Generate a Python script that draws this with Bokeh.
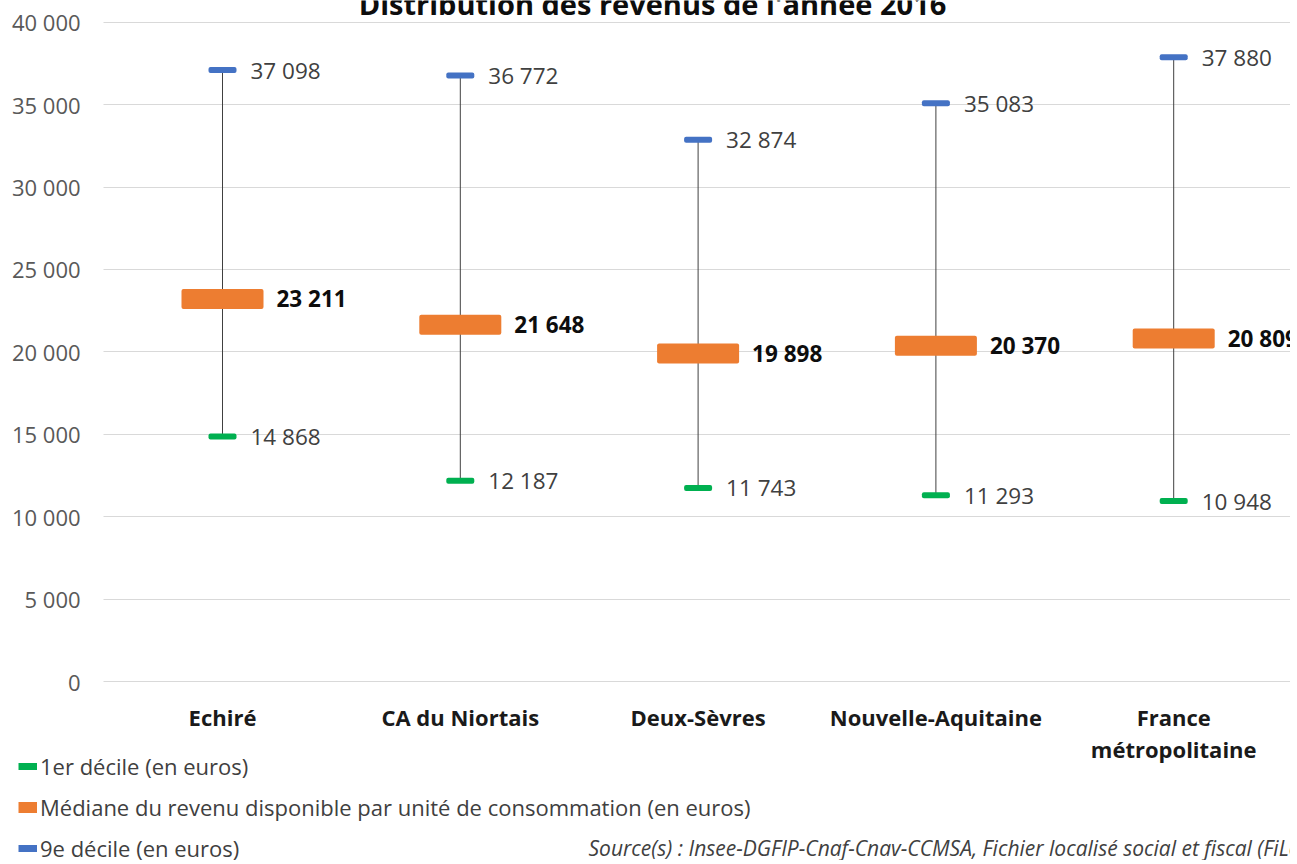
from bokeh.plotting import figure
from bokeh.models import (ColumnDataSource, Range1d, Label, Legend, LegendItem, FixedTicker,
                          LinearAxis, Grid, Rect)
from bokeh.core.properties import value
from bokeh.embed import file_html
from bokeh.resources import INLINE

# ---- data ----
categories = ["Echiré", "CA du Niortais", "Deux-Sèvres", "Nouvelle-Aquitaine", "France métropolitaine"]
category_labels = ["Echiré", "CA du Niortais", "Deux-Sèvres", "Nouvelle-Aquitaine", "France\nmétropolitaine"]
decile1 = [14868, 12187, 11743, 11293, 10948]
median = [23211, 21648, 19898, 20370, 20809]
decile9 = [37098, 36772, 32874, 35083, 37880]
y_ticks = [0, 5000, 10000, 15000, 20000, 25000, 30000, 35000, 40000]
y_tick_labels = ["0", "5 000", "10 000", "15 000", "20 000", "25 000", "30 000", "35 000", "40 000"]

title_text = "Distribution des revenus de l'année 2016"
legend_labels = ["1er décile (en euros)",
                 "Médiane du revenu disponible par unité de consommation (en euros)",
                 "9e décile (en euros)"]
source_text = "Source(s) : Insee-DGFIP-Cnaf-Cnav-CCMSA, Fichier localisé social et fiscal (FiLoSoFi)"


def fmt(v):
    return f"{v:,}".replace(",", " ")


FONT = "Open Sans"
C_LOW = "#00B050"
C_MED = "#ED7D31"
C_HIGH = "#4472C4"

W, H = 1290, 860
PLOT_LEFT = 103.1      # px, left edge of the plotting area
UNIT = 237.8           # px per category
PX = 0.0164825         # px per euro
ZERO_Y = 681           # px of the 0 line from the top
TOP_Y = ZERO_Y - 40000 * PX
X_START = -PLOT_LEFT / UNIT
X_END = (W - PLOT_LEFT) / UNIT
Y_END = 40000 + TOP_Y / PX
Y_START = -(H - ZERO_Y) / PX


def y_at(px_from_top):
    return (ZERO_Y - px_from_top) / PX


def x_at(px_from_left):
    return (px_from_left - PLOT_LEFT) / UNIT


xpos = [i + 0.5 for i in range(len(categories))]   # category centres on the x scale

src = ColumnDataSource(dict(
    x=xpos, cat=categories, low=decile1, med=median, high=decile9,
    low_t=[fmt(v) for v in decile1], med_t=[fmt(v) for v in median],
    high_t=[fmt(v) for v in decile9],
))
cat_src = ColumnDataSource(dict(x=xpos, lab=category_labels, y0=[0] * len(categories)))

p = figure(x_range=Range1d(X_START, X_END), y_range=Range1d(Y_START, Y_END),
           x_axis_location=None, y_axis_location=None,
           width=W, height=H,
           min_border_left=0, min_border_right=0, min_border_top=0, min_border_bottom=0,
           output_backend="svg", toolbar_location=None)
p.outline_line_color = None
p.background_fill_color = "white"
p.border_fill_color = "white"
p.xgrid.grid_line_color = None
p.ygrid.grid_line_color = None

# horizontal grid lines, only over the plotting area
grid = Grid(dimension=1, ticker=FixedTicker(ticks=y_ticks), grid_line_color="#d9d9d9", grid_line_width=1)
if "cross_bounds" in Grid.properties():
    grid.cross_bounds = (0, X_END)
p.add_layout(grid, "center")

# y axis drawn at the left edge of the plotting area
yaxis = LinearAxis(fixed_location=0, ticker=FixedTicker(ticks=y_ticks),
                   major_label_overrides={t: l for t, l in zip(y_ticks, y_tick_labels)})
yaxis.axis_line_color = None
yaxis.major_tick_line_color = None
yaxis.minor_tick_line_color = None
yaxis.major_label_text_font = FONT
yaxis.major_label_text_font_size = "22px"
yaxis.major_label_text_color = "#595959"
yaxis.major_label_standoff = 17
p.add_layout(yaxis, "left")

# category labels below the zero line
p.text(x="x", y="y0", text="lab", source=cat_src, y_offset=20, text_align="center",
       text_baseline="top", text_font=value(FONT), text_font_size="22px", text_font_style="bold",
       text_color="#1a1a1a", text_line_height=1.07)

# whiskers
p.segment(x0="x", y0="low", x1="x", y1="high", source=src, line_color="#404040", line_width=1)
# markers
rect_kw = {}
if "border_radius" in Rect.properties():
    rect_kw = dict(border_radius=2)
p.rect(x="x", y="high", width=28, height=6, width_units="screen", height_units="screen",
       source=src, fill_color=C_HIGH, line_color=None, **rect_kw)
p.rect(x="x", y="low", width=28, height=6, width_units="screen", height_units="screen",
       source=src, fill_color=C_LOW, line_color=None, **rect_kw)
p.rect(x="x", y="med", width=82, height=20, width_units="screen", height_units="screen",
       source=src, fill_color=C_MED, line_color=None, **rect_kw)

# value labels
p.text(x="x", y="high", text="high_t", source=src, x_offset=28, text_align="left",
       text_baseline="middle", text_font=value(FONT), text_font_size="22.5px", text_color="#404040")
p.text(x="x", y="low", text="low_t", source=src, x_offset=28, text_align="left",
       text_baseline="middle", text_font=value(FONT), text_font_size="22.5px", text_color="#404040")
p.text(x="x", y="med", text="med_t", source=src, x_offset=54, text_align="left",
       text_baseline="middle", text_font=value(FONT), text_font_size="22.5px", text_font_style="bold",
       text_color="#0d0d0d")

# title (partly cut at the top, as in the reference)
p.add_layout(Label(x=x_at(652), y=y_at(3), text=title_text, text_align="center",
                   text_baseline="alphabetic", text_font=FONT, text_font_size="29px",
                   text_font_style="bold", text_color="#0d0d0d"))

# source
p.add_layout(Label(x=x_at(588), y=y_at(847), text=source_text,
                   text_align="left", text_baseline="middle",
                   text_font=FONT, text_font_size="21px", text_font_style="italic", text_color="#404040"))

# legend: hidden line renderers on the real series give the legend swatches
r1 = p.line(x="x", y="low", source=src, line_color=C_LOW, line_width=7, visible=False)
r2 = p.line(x="x", y="med", source=src, line_color=C_MED, line_width=11, visible=False)
r3 = p.line(x="x", y="high", source=src, line_color=C_HIGH, line_width=7, visible=False)
legend = Legend(items=[LegendItem(label=legend_labels[0], renderers=[r1]),
                       LegendItem(label=legend_labels[1], renderers=[r2]),
                       LegendItem(label=legend_labels[2], renderers=[r3])],
                location=(18, -3), orientation="vertical",
                glyph_width=19, glyph_height=30, label_height=30, label_standoff=3,
                spacing=11, padding=0, margin=0, border_line_color=None,
                background_fill_alpha=0, inactive_fill_alpha=0,
                label_text_font=FONT, label_text_font_size="22px", label_text_color="#404040")
p.add_layout(legend, "center")

open("out.html", "w").write(file_html(p, INLINE))
